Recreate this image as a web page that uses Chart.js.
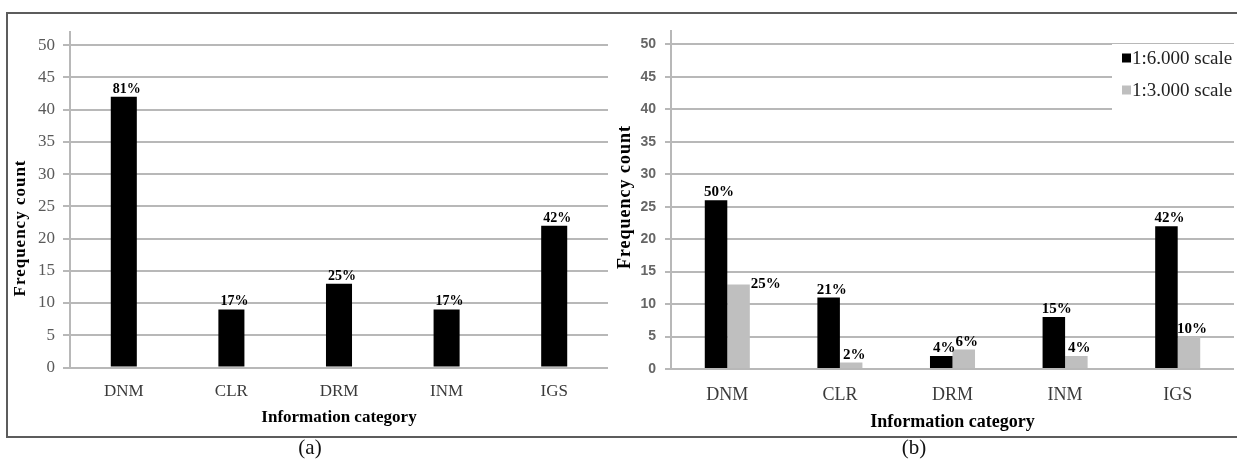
<!DOCTYPE html>
<html><head><meta charset="utf-8">
<script src="https://cdn.jsdelivr.net/npm/chart.js@4.4.1/dist/chart.umd.min.js"></script>
<style>
html,body{margin:0;padding:0;background:#fff;}
body{width:1237px;height:466px;position:relative;overflow:hidden;}
#frame{position:absolute;left:6px;top:12px;width:1240px;height:422px;border-left:2px solid #5c5c5c;border-top:2px solid #5c5c5c;border-bottom:2px solid #5c5c5c;}
.box{position:absolute;top:14px;height:422px;}
#boxA{left:8px;width:602px;}
#boxB{left:612px;width:625px;}
.cap{position:absolute;top:434px;font-family:"Liberation Serif";font-size:21px;color:#111;width:60px;text-align:center;line-height:26px;}
</style></head>
<body>
<div id="frame"></div>
<div class="box" id="boxA"><canvas id="cA" width="602" height="422"></canvas></div>
<div class="box" id="boxB"><canvas id="cB" width="625" height="422"></canvas></div>
<div class="cap" style="left:280px">(a)</div>
<div class="cap" style="left:884px">(b)</div>
<script>
// ---- data ----
const categories = ['DNM', 'CLR', 'DRM', 'INM', 'IGS'];
const yTickValues = [0, 5, 10, 15, 20, 25, 30, 35, 40, 45, 50];
const countsA = [42, 9, 13, 9, 22];
const pctA = ['81%', '17%', '25%', '17%', '42%'];
const seriesNames = ['1:6.000 scale', '1:3.000 scale'];
const counts6000 = [26, 11, 2, 8, 22];
const pct6000 = ['50%', '21%', '4%', '15%', '42%'];
const counts3000 = [13, 1, 3, 2, 5];
const pct3000 = ['25%', '2%', '6%', '4%', '10%'];
const titleY = 'Frequency count';
const titleX = 'Information category';

// ---- plugins ----
const barLabels = {
  id: 'barLabels',
  afterDatasetsDraw(chart, args, o) {
    const ctx = chart.ctx;
    ctx.save();
    ctx.font = o.font;
    ctx.fillStyle = '#000';
    chart.data.datasets.forEach((ds, i) => {
      const meta = chart.getDatasetMeta(i);
      meta.data.forEach((bar, j) => {
        const txt = ds.pctLabels[j];
        const place = (ds.labelPlace || [])[j] || 'top';
        if (place === 'side') {
          ctx.textAlign = 'left'; ctx.textBaseline = 'middle';
          ctx.fillText(txt, bar.x + bar.width / 2 + 1, bar.y);
        } else {
          ctx.textAlign = 'center'; ctx.textBaseline = 'alphabetic';
          ctx.fillText(txt, bar.x + o.dx, bar.y - o.gap);
        }
      });
    });
    ctx.restore();
  }
};

const axisTitles = {
  id: 'axisTitles',
  afterDraw(chart, args, o) {
    const ctx = chart.ctx, ca = chart.chartArea;
    ctx.save();
    ctx.fillStyle = '#000';
    ctx.font = o.font;
    ctx.textAlign = 'center';
    ctx.textBaseline = 'middle';
    ctx.fillText(o.x, (ca.left + ca.right) / 2, o.xTitleY);
    ctx.translate(o.yTitleX, o.yTitleY);
    ctx.rotate(-Math.PI / 2);
    ctx.letterSpacing = '1px';
    ctx.fillText(o.y, 0, 0);
    ctx.restore();
  }
};

const boxLegend = {
  id: 'boxLegend',
  beforeDatasetsDraw(chart, args, o) {
    if (!o.show) return;
    const ctx = chart.ctx;
    ctx.save();
    ctx.fillStyle = '#fff';
    ctx.fillRect(o.left, o.top, o.width, o.height);
    ctx.font = o.font;
    ctx.textAlign = 'left';
    ctx.textBaseline = 'middle';
    chart.data.datasets.forEach((ds, i) => {
      const cy = o.firstY + i * o.rowGap;
      ctx.fillStyle = ds.backgroundColor;
      ctx.fillRect(o.swatchX, cy - o.swatch / 2, o.swatch, o.swatch);
      ctx.fillStyle = '#222';
      ctx.fillText(ds.label, o.swatchX + o.swatch + 1, cy + 1);
    });
    ctx.restore();
  }
};

function yScale(width, tickFont, tickColor, pad, tickLen) {
  return {
    min: 0, max: 52,
    afterBuildTicks(s) { s.ticks = yTickValues.map(v => ({ value: v })); },
    afterFit(s) { s.width = width; },
    ticks: { font: tickFont, color: tickColor, padding: pad },
    grid: { color: '#b8b8b8', lineWidth: 2, tickLength: tickLen },
    border: { color: '#b8b8b8', width: 2 }
  };
}
function xScale(height, size, pad) {
  return {
    grid: { display: false, drawTicks: false },
    border: { display: false },
    afterFit(s) { s.height = height; },
    ticks: { font: { family: 'Liberation Serif', size: size }, color: '#3a3a3a', padding: pad }
  };
}

new Chart(document.getElementById('cA'), {
  type: 'bar',
  data: {
    labels: categories,
    datasets: [{
      label: 'count', data: countsA, pctLabels: pctA,
      backgroundColor: '#000000',
      categoryPercentage: 1, barPercentage: 0.242
    }]
  },
  options: {
    responsive: false, animation: false,
    layout: { padding: { left: 0, right: 2, top: 11, bottom: 0 } },
    scales: {
      x: xScale(68.5, 17, 14),
      y: yScale(62, { family: 'Liberation Serif', size: 17 }, '#595959', 8, 7)
    },
    plugins: {
      legend: { display: false }, tooltip: { enabled: false },
      barLabels: { font: 'bold 14px "Liberation Serif"', dx: 3, gap: 4 },
      axisTitles: { font: 'bold 17px "Liberation Serif"', x: titleX, y: titleY, xTitleY: 404, yTitleX: 13, yTitleY: 214 },
      boxLegend: { show: false }
    }
  },
  plugins: [barLabels, axisTitles, boxLegend]
});

new Chart(document.getElementById('cB'), {
  type: 'bar',
  data: {
    labels: categories,
    datasets: [{
      label: seriesNames[0], data: counts6000, pctLabels: pct6000,
      backgroundColor: '#000000',
      categoryPercentage: 0.4, barPercentage: 1
    }, {
      label: seriesNames[1], data: counts3000, pctLabels: pct3000,
      labelPlace: ['side', 'top', 'top', 'top', 'top'],
      backgroundColor: '#bfbfbf',
      categoryPercentage: 0.4, barPercentage: 1
    }]
  },
  options: {
    responsive: false, animation: false,
    layout: { padding: { left: 0, right: 3, top: 11, bottom: 0 } },
    scales: {
      x: xScale(67, 18, 15),
      y: yScale(59, { family: 'Liberation Sans', size: 14, weight: 'bold' }, '#666666', 9, 6)
    },
    plugins: {
      legend: { display: false }, tooltip: { enabled: false },
      barLabels: { font: 'bold 15px "Liberation Serif"', dx: 3, gap: 4 },
      axisTitles: { font: 'bold 18px "Liberation Serif"', x: titleX, y: titleY, xTitleY: 408, yTitleX: 13, yTitleY: 183 },
      boxLegend: { show: true, left: 500, top: 30, width: 125, height: 68, swatchX: 510, swatch: 9, firstY: 44, rowGap: 32, font: '19px "Liberation Serif"' }
    }
  },
  plugins: [barLabels, axisTitles, boxLegend]
});
</script>
</body></html>
